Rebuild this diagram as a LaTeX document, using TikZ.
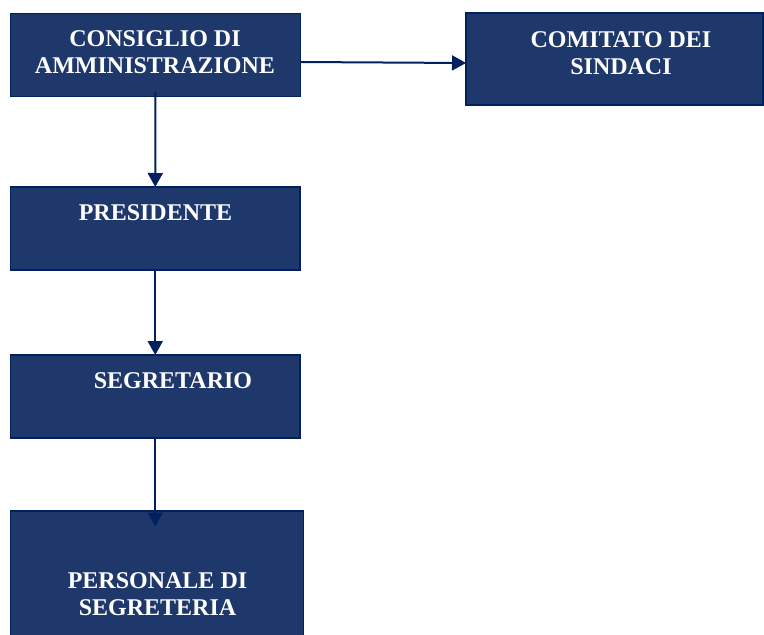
\documentclass[tikz,border=0pt]{standalone}
\usepackage{fontspec}
\setmainfont{Liberation Serif}
\usetikzlibrary{arrows.meta,calc}
\definecolor{boxfill}{HTML}{1E386C}
\definecolor{boxline}{HTML}{002060}
\begin{document}
\begin{tikzpicture}[x=1pt,y=1pt,
  orgbox/.style={draw=boxline,fill=boxfill,line width=1.5pt,rectangle,inner sep=0pt,outer sep=0pt},
  lbl/.style={text=white,font=\fontsize{24}{27.5}\selectfont\bfseries,align=center,inner sep=0pt},
  conn/.style={draw=boxline,line width=2pt,-{Triangle[length=14pt,width=15pt]}}]
\useasboundingbox (0,0) rectangle (764,-635);
\clip (0,0) rectangle (764,-635);
% boxes
\node[orgbox,minimum width=290pt,minimum height=83pt] (cda) at (155.5,-55) {};
\node[orgbox,minimum width=297pt,minimum height=92pt] (com) at (614.5,-59) {};
\node[orgbox,minimum width=289.5pt,minimum height=83pt] (pres) at (155.25,-228.5) {};
\node[orgbox,minimum width=289.5pt,minimum height=83pt] (seg) at (155.25,-396.5) {};
\node[orgbox,minimum width=293pt,minimum height=149pt] (pers) at (157,-585.5) {};
% labels
\node[lbl] (tcda) at (155,-52) {CONSIGLIO DI\\AMMINISTRAZIONE};
\node[lbl] (tcom) at (621,-53) {COMITATO DEI\\SINDACI};
\node[lbl] (tpres) at (155.5,-213) {PRESIDENTE};
\node[lbl] (tseg) at (173,-381) {SEGRETARIO};
\node[lbl] (tpers) at (157.5,-594) {PERSONALE DI\\SEGRETERIA};
% connectors
\draw[conn] ([yshift=-7pt]cda.east) -- ([yshift=-4pt]com.west);
\draw[conn] ([yshift=5pt]cda.south) -- (pres.north);
\draw[conn] (pres.south) -- (seg.north);
\draw[conn] (seg.south) -- ($(pers.north -| seg.south)+(0,-15.5)$);
\end{tikzpicture}
\end{document}
